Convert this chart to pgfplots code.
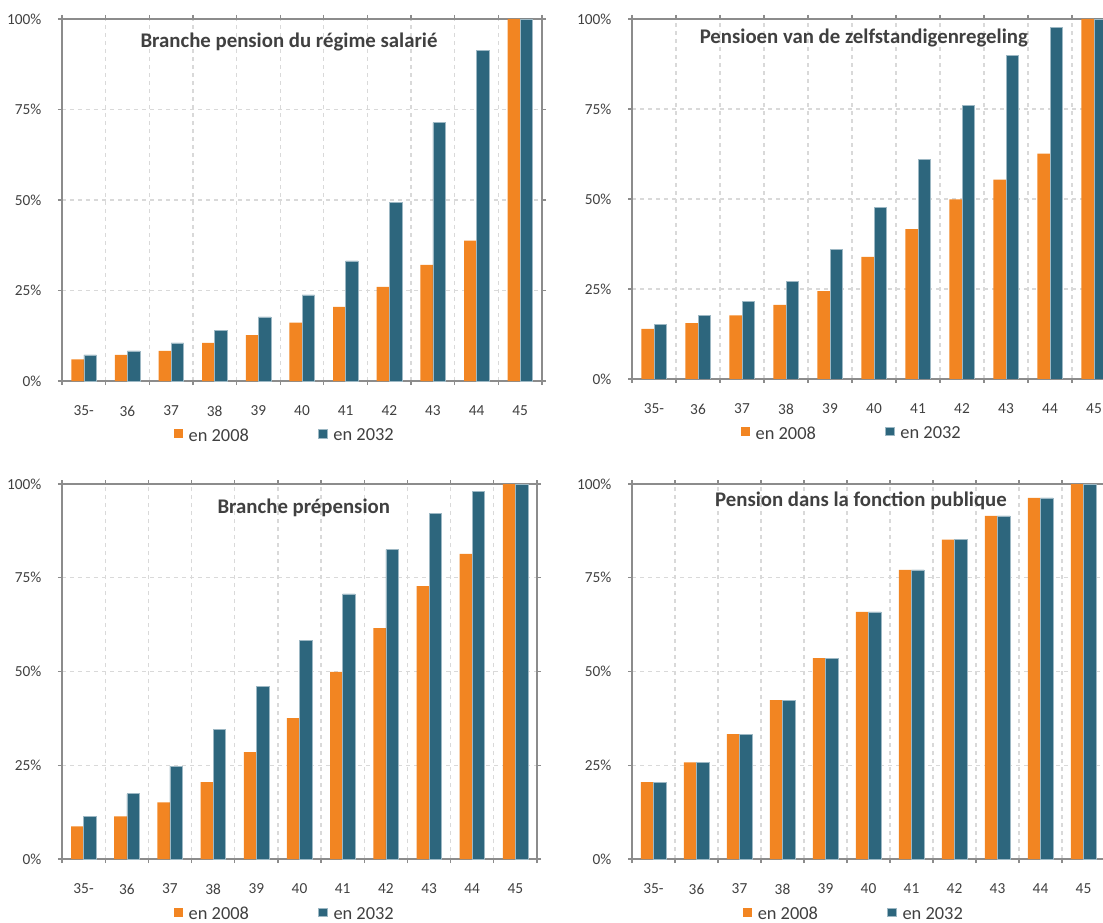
\documentclass[border=0pt]{standalone}
\usepackage{pgfplots}
\pgfplotsset{compat=1.18}
\usepackage{fontspec}
\setmainfont{Carlito}
\definecolor{cor}{HTML}{F28522}
\definecolor{cbl}{HTML}{2D667D}
\definecolor{cbledge}{HTML}{9DB8C4}
\definecolor{txt}{HTML}{404040}
\definecolor{axg}{HTML}{8C8C8C}
\definecolor{grd}{HTML}{D9D9D9}

\tikzset{ptitle/.style={font=\bfseries\fontsize{15.6}{17}\selectfont, text=txt}}
\pgfplotsset{
 panel/.style={
  scale only axis,
  ybar=0pt, bar width=9.4pt,
  xmin=-0.5, xmax=10.5, ymin=0, ymax=100,
  enlargelimits=false,
  xtick={0,...,10},
  xticklabels={35-,36,37,38,39,40,41,42,43,44,45},
  minor xtick={-0.5,0.5,...,10.5},
  ytick={0,25,50,75,100},
  yticklabel={\pgfmathprintnumber{\tick}\%},
  xminorgrids=true, ymajorgrids=true, xmajorgrids=false,
  grid style={grd, dashed, line width=0.9pt},
  minor grid style={grd, dashed, line width=0.9pt},
  major x tick style={draw=none},
  tick align=outside,
  major tick length=3pt, minor tick length=3pt,
  tick style={axg, line width=1pt},
  axis line style={axg, line width=1.6pt},
  ticklabel style={font=\fontsize{11.5}{13}\selectfont, text=txt},
  /pgf/number format/assume math mode=true,
  xticklabel style={yshift=-12pt},
  yticklabel style={xshift=-9pt},
  legend columns=2,
  legend style={draw=none, fill=none, font=\fontsize{13.8}{15}\selectfont, text=txt, anchor=center,
    /tikz/every odd column/.append style={column sep=2.5pt},
    /tikz/every even column/.append style={column sep=50pt}},
  legend image code/.code={\fill[##1] (0pt,-1.5pt) rectangle (6.5pt,5pt);},
 },
 s08/.style={fill=cor, draw=none},
 s32/.style={fill=cbl, draw=cbledge, line width=0.4pt},
}

\begin{document}
\begin{tikzpicture}
\useasboundingbox (0,0) rectangle (827.25pt,-692.25pt);
\clip (0,0) rectangle (827.25pt,-692.25pt);

% Panel 1
\begin{axis}[panel, width=360pt, height=271.5pt, at={(46.5pt,-285.75pt)}, anchor=south west,
  legend style={at={(0.465,-0.152)}}]
\addplot[s08] coordinates {(0,6.0) (1,7.2) (2,8.3) (3,10.5) (4,12.7) (5,16.1) (6,20.5) (7,26.0) (8,32.1) (9,38.8) (10,100)};
\addplot[s32] coordinates {(0,7.2) (1,8.3) (2,10.5) (3,13.9) (4,17.7) (5,23.8) (6,33.2) (7,49.3) (8,71.4) (9,91.4) (10,100)};
\legend{en 2008, en 2032}
\node[ptitle] at (axis description cs:0.473,0.936) {Branche pension du régime salarié};
\end{axis}

% Panel 2
\begin{axis}[panel, width=363pt, height=270pt, at={(474pt,-284.25pt)}, anchor=south west,
  legend style={at={(0.455,-0.152)}}]
\addplot[s08] coordinates {(0,13.9) (1,15.5) (2,17.7) (3,20.6) (4,24.4) (5,33.9) (6,41.6) (7,49.9) (8,55.4) (9,62.6) (10,100)};
\addplot[s32] coordinates {(0,15.1) (1,17.7) (2,21.6) (3,27.1) (4,36.0) (5,47.6) (6,60.9) (7,75.9) (8,89.8) (9,97.6) (10,100)};
\legend{en 2008, en 2032}
\node[ptitle] at (axis description cs:0.479,0.947) {Pensioen van de zelfstandigenregeling};
\end{axis}

% Panel 3
\begin{axis}[panel, width=356.25pt, height=281.25pt, at={(46.5pt,-644.25pt)}, anchor=south west,
  legend style={at={(0.47,-0.148)}}]
\addplot[s08] coordinates {(0,8.7) (1,11.4) (2,15.1) (3,20.5) (4,28.5) (5,37.6) (6,49.9) (7,61.6) (8,72.8) (9,81.4) (10,100)};
\addplot[s32] coordinates {(0,11.4) (1,17.4) (2,24.8) (3,34.5) (4,46.1) (5,58.4) (6,70.7) (7,82.5) (8,92.1) (9,98.0) (10,100)};
\legend{en 2008, en 2032}
\node[ptitle] at (axis description cs:0.509,0.936) {Branche prépension};
\end{axis}

% Panel 4
\begin{axis}[panel, width=354.75pt, height=281.25pt, at={(474pt,-644.25pt)}, anchor=south west,
  legend style={at={(0.47,-0.148)}}]
\addplot[s08] coordinates {(0,20.5) (1,25.8) (2,33.3) (3,42.4) (4,53.6) (5,65.9) (6,77.1) (7,85.2) (8,91.5) (9,96.3) (10,100)};
\addplot[s32] coordinates {(0,20.5) (1,25.8) (2,33.3) (3,42.4) (4,53.6) (5,65.9) (6,77.1) (7,85.2) (8,91.5) (9,96.3) (10,100)};
\legend{en 2008, en 2032}
\node[ptitle] at (axis description cs:0.484,0.955) {Pension dans la fonction publique};
\end{axis}
\end{tikzpicture}
\end{document}
